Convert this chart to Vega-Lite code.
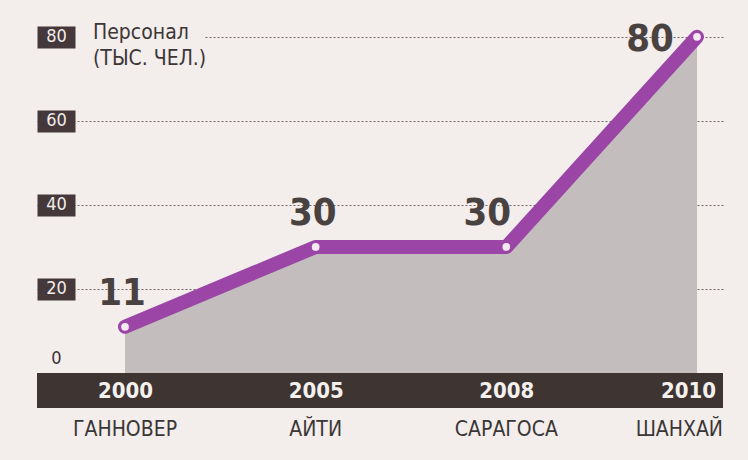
{
  "$schema": "https://vega.github.io/schema/vega-lite/v6.json",
  "width": 686,
  "height": 353,
  "autosize": {"type": "none"},
  "padding": {"left": 37, "top": 20, "right": 25, "bottom": 87},
  "background": "#f3edeb",
  "config": {"view": {"stroke": null}},
  "title": {
    "text": ["Персонал", "(ТЫС. ЧЕЛ.)"],
    "anchor": "start",
    "frame": "group",
    "orient": "top",
    "baseline": "top",
    "offset": 0,
    "dx": 56,
    "dy": 49,
    "font": "Liberation Sans Narrow, DejaVu Sans Condensed, Roboto, sans-serif",
    "fontSize": 21,
    "fontWeight": "normal",
    "lineHeight": 26,
    "color": "#3c3636"
  },
  "data": {
    "values": [
      {"year": "2000", "city": "ГАННОВЕР", "staff": 11},
      {"year": "2005", "city": "АЙТИ", "staff": 30},
      {"year": "2008", "city": "САРАГОСА", "staff": 30},
      {"year": "2010", "city": "ШАНХАЙ", "staff": 80}
    ]
  },
  "encoding": {
    "x": {
      "field": "year",
      "type": "ordinal",
      "scale": {"type": "point", "padding": 0.299, "align": 0.772},
      "axis": {
        "title": null,
        "grid": false,
        "domain": false,
        "zindex": 1,
        "offset": 17.5,
        "ticks": false,
        "labelPadding": 0,
        "labelAngle": 0,
        "labelAlign": "center",
        "labelBaseline": "middle",
        "labelColor": "#f4f0ee",
        "labelFont": "Liberation Sans Narrow, DejaVu Sans Condensed, Roboto, sans-serif",
        "labelFontSize": 22,
        "labelFontWeight": "bold",
        "labelOverlap": false,
        "labelOffset": {"condition": {"test": "datum.label === '2010'", "value": -9}, "value": 0}
      }
    },
    "y": {
      "field": "staff",
      "type": "quantitative",
      "scale": {"domain": [0, 84], "nice": false, "zero": true},
      "axis": {
        "title": null,
        "values": [0, 20, 40, 60, 80],
        "domain": false,
        "ticks": true,
        "tickSize": 38,
        "tickWidth": 22,
        "tickCap": "butt",
        "tickColor": "#45383a",
        "tickOpacity": {"condition": {"test": "datum.value === 0", "value": 0}, "value": 1},
        "offset": -38,
        "labelPadding": -19,
        "labelAlign": "center",
        "labelBaseline": "middle",
        "labelFlush": false,
        "labelFont": "Liberation Sans Narrow, DejaVu Sans Condensed, Roboto, sans-serif",
        "labelFontSize": 18,
        "labelColor": {"condition": {"test": "datum.value === 0", "value": "#3a3434"}, "value": "#f1ecea"},
        "labelOffset": {"condition": {"test": "datum.value === 0", "value": -15}, "value": 0},
        "grid": true,
        "gridDash": {"condition": {"test": "datum.value === 80", "value": [0, 168, 2, 2, 2, 2, 2, 2, 2, 2, 2, 2, 2, 2, 2, 2, 2, 2, 2, 2, 2, 2, 2, 2, 2, 2, 2, 2, 2, 2, 2, 2, 2, 2, 2, 2, 2, 2, 2, 2, 2, 2, 2, 2, 2, 2, 2, 2, 2, 2, 2, 2, 2, 2, 2, 2, 2, 2, 2, 2, 2, 2, 2, 2, 2, 2, 2, 2, 2, 2, 2, 2, 2, 2, 2, 2, 2, 2, 2, 2, 2, 2, 2, 2, 2, 2, 2, 2, 2, 2, 2, 2, 2, 2, 2, 2, 2, 2, 2, 2, 2, 2, 2, 2, 2, 2, 2, 2, 2, 2, 2, 2, 2, 2, 2, 2, 2, 2, 2, 2, 2, 2, 2, 2, 2, 2, 2, 2, 2, 2, 2, 2, 2, 2, 2, 2, 2, 2, 2, 2, 2, 2, 2, 2, 2, 2, 2, 2, 2, 2, 2, 2, 2, 2, 2, 2, 2, 2, 2, 2, 2, 2, 2, 2, 2, 2, 2, 2, 2, 2, 2, 2, 2, 2, 2, 2, 2, 2, 2, 2, 2, 2, 2, 2, 2, 2, 2, 2, 2, 2, 2, 2, 2, 2, 2, 2, 2, 2, 2, 2, 2, 2, 2, 2, 2, 2, 2, 2, 2, 2, 2, 2, 2, 2, 2, 2, 2, 2, 2, 2, 2, 2, 2, 2, 2, 2, 2, 2, 2, 2, 2, 2, 2, 2, 2, 2, 2, 2, 2, 2, 2, 2, 2, 2, 2, 2, 2, 2, 2, 2, 2, 2, 2, 2, 2, 2, 2, 2, 2, 2, 2, 2, 2, 2, 2, 2, 2, 2, 2, 2, 2, 2, 2, 2, 2, 2, 2, 2]}, "value": [2, 2]},
        "gridColor": "#6e6766",
        "gridWidth": 1,
        "gridOpacity": {"condition": {"test": "datum.value === 0", "value": 0}, "value": 1}
      }
    }
  },
  "layer": [
    {"mark": {"type": "area", "color": "#c3bebd", "line": false}},
    {
      "mark": {"type": "rect", "color": "#3e3431"},
      "encoding": {"x": null, "y": {"datum": 0}, "y2": {"datum": -8.33}}
    },
    {"mark": {"type": "line", "color": "#9b45a6", "strokeWidth": 14, "strokeCap": "round", "strokeJoin": "round"}},
    {"mark": {"type": "point", "filled": true, "color": "#f6e8f3", "size": 60, "opacity": 1}},
    {
      "transform": [{"filter": "datum.year === '2000' || datum.year === '2005'"}],
      "mark": {"type": "text", "font": "Liberation Sans Narrow, DejaVu Sans Condensed, Roboto, sans-serif", "fontSize": 38, "fontWeight": "bold", "color": "#4a4240", "baseline": "middle", "align": "center", "dx": -3, "dy": -33},
      "encoding": {"text": {"field": "staff", "type": "quantitative"}}
    },
    {
      "transform": [{"filter": "datum.year === '2008'"}],
      "mark": {"type": "text", "font": "Liberation Sans Narrow, DejaVu Sans Condensed, Roboto, sans-serif", "fontSize": 38, "fontWeight": "bold", "color": "#4a4240", "baseline": "middle", "align": "center", "dx": -19, "dy": -33},
      "encoding": {"text": {"field": "staff", "type": "quantitative"}}
    },
    {
      "transform": [{"filter": "datum.year === '2010'"}],
      "mark": {"type": "text", "font": "Liberation Sans Narrow, DejaVu Sans Condensed, Roboto, sans-serif", "fontSize": 38, "fontWeight": "bold", "color": "#4a4240", "baseline": "middle", "align": "center", "dx": -47, "dy": 3},
      "encoding": {"text": {"field": "staff", "type": "quantitative"}}
    },
    {
      "transform": [{"filter": "datum.year !== '2010'"}],
      "mark": {"type": "text", "font": "Liberation Sans Narrow, DejaVu Sans Condensed, Roboto, sans-serif", "fontSize": 21, "color": "#3a3636", "baseline": "middle", "align": "center"},
      "encoding": {"y": {"datum": -13.6}, "text": {"field": "city", "type": "nominal"}}
    },
    {
      "transform": [{"filter": "datum.year === '2010'"}],
      "mark": {"type": "text", "font": "Liberation Sans Narrow, DejaVu Sans Condensed, Roboto, sans-serif", "fontSize": 21, "color": "#3a3636", "baseline": "middle", "align": "right", "dx": 26},
      "encoding": {"y": {"datum": -13.6}, "text": {"field": "city", "type": "nominal"}}
    }
  ]
}
